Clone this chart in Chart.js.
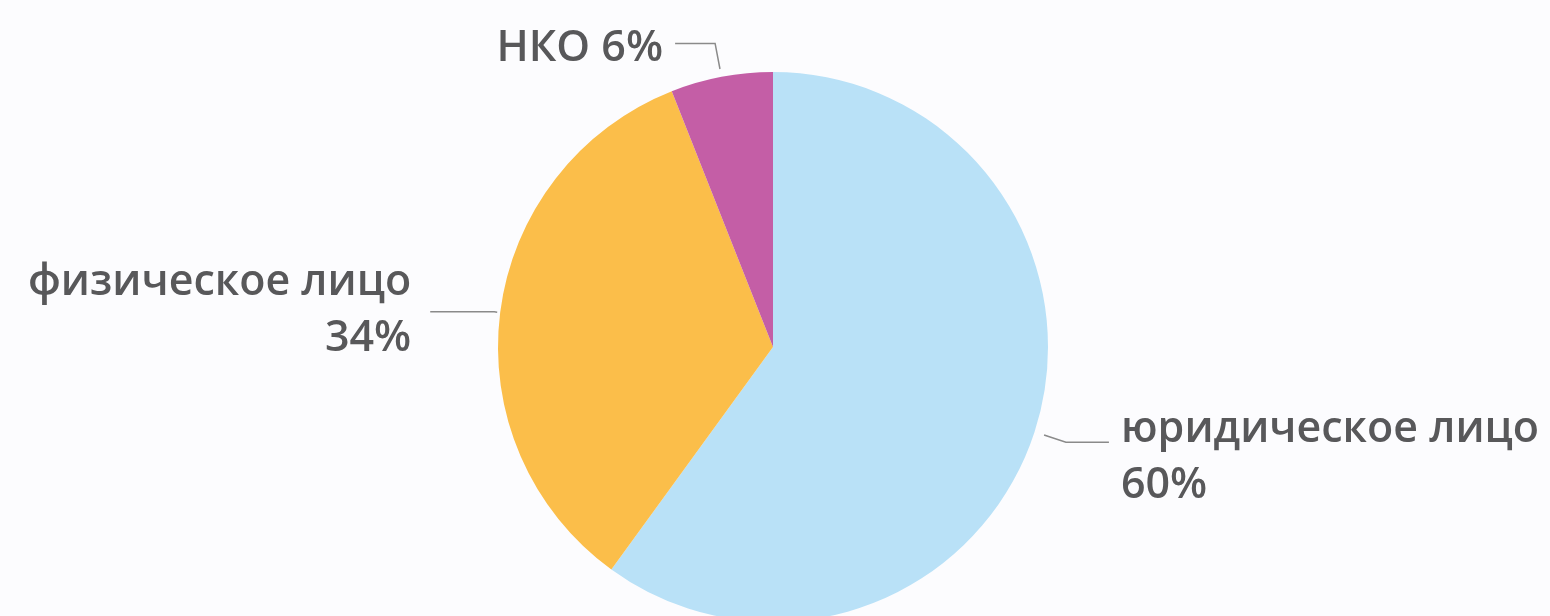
<!DOCTYPE html>
<html>
<head>
<meta charset="utf-8">
<script src="https://cdn.jsdelivr.net/npm/chart.js@4"></script>
<style>
  html, body { margin: 0; padding: 0; background: #fcfcfe; overflow: hidden; }
  #wrap { position: absolute; left: 0; top: 0; width: 1550px; height: 700px; }
</style>
</head>
<body>
<div id="wrap"><canvas id="myChart"></canvas></div>
<script>
// данные
var categories = ["юридическое лицо", "физическое лицо", "НКО"];
var shares     = [60, 34, 6];
var labelLines = [["юридическое лицо", "60%"], ["физическое лицо", "34%"], ["НКО 6%"]];
var colors     = ["#b9e1f7", "#fbbe4a", "#c45ea6"];

// подписи с выносками: отступ от края, длина горизонтали, сторона, зазор, сдвиг текста
var callouts = [
    { start: 10, elbow: 33, run: 43, side: 1,  gap: 12, dy: 16 },
    { start: 3,  elbow: 6,  run: 64, side: -1, gap: 19, dy: -1 },
    { start: 8,  elbow: 34, run: 40, side: -1, gap: 12, dy: 5 }
];

var calloutPlugin = {
    id: "callouts",
    afterDatasetsDraw: function(chart){
        var c = chart.ctx;
        var meta = chart.getDatasetMeta(0);
        c.save();
        c.font = "600 43px 'Open Sans'";
        c.textBaseline = "middle";
        meta.data.forEach(function(arc, i){
            var cfg = callouts[i];
            var mid = (arc.startAngle + arc.endAngle) / 2;
            var r = arc.outerRadius;
            var x1 = arc.x + Math.cos(mid) * (r + cfg.start);
            var y1 = arc.y + Math.sin(mid) * (r + cfg.start);
            var x2 = arc.x + Math.cos(mid) * (r + cfg.elbow);
            var y2 = arc.y + Math.sin(mid) * (r + cfg.elbow);
            var x3 = x2 + cfg.side * cfg.run;
            c.strokeStyle = "#8a8a8a";
            c.lineWidth = 1.5;
            c.beginPath();
            c.moveTo(x1, y1);
            c.lineTo(x2, y2);
            c.lineTo(x3, y2);
            c.stroke();

            var lines = labelLines[i];
            var lh = 56;
            var top = y2 + cfg.dy - (lines.length - 1) * lh / 2;
            c.fillStyle = "#58585a";
            c.textAlign = cfg.side > 0 ? "left" : "right";
            var tx = x3 + cfg.side * cfg.gap;
            lines.forEach(function(t, k){
                c.fillText(t, tx, top + k * lh);
            });
        });
        c.restore();
    }
};

var ctx = document.getElementById("myChart");
var chart = new Chart(ctx, {
    type: 'pie',
    data: {
        labels: categories,
        datasets: [{
            data: shares,
            backgroundColor: colors,
            borderWidth: 0
        }]
    },
    options: {
        responsive: true,
        maintainAspectRatio: false,
        animation: false,
        layout: { padding: { top: 72, bottom: 78, left: 0, right: 4 } },
        plugins: {
            legend: { display: false },
            tooltip: { enabled: false }
        }
    },
    plugins: [calloutPlugin]
});
</script>
</body>
</html>
